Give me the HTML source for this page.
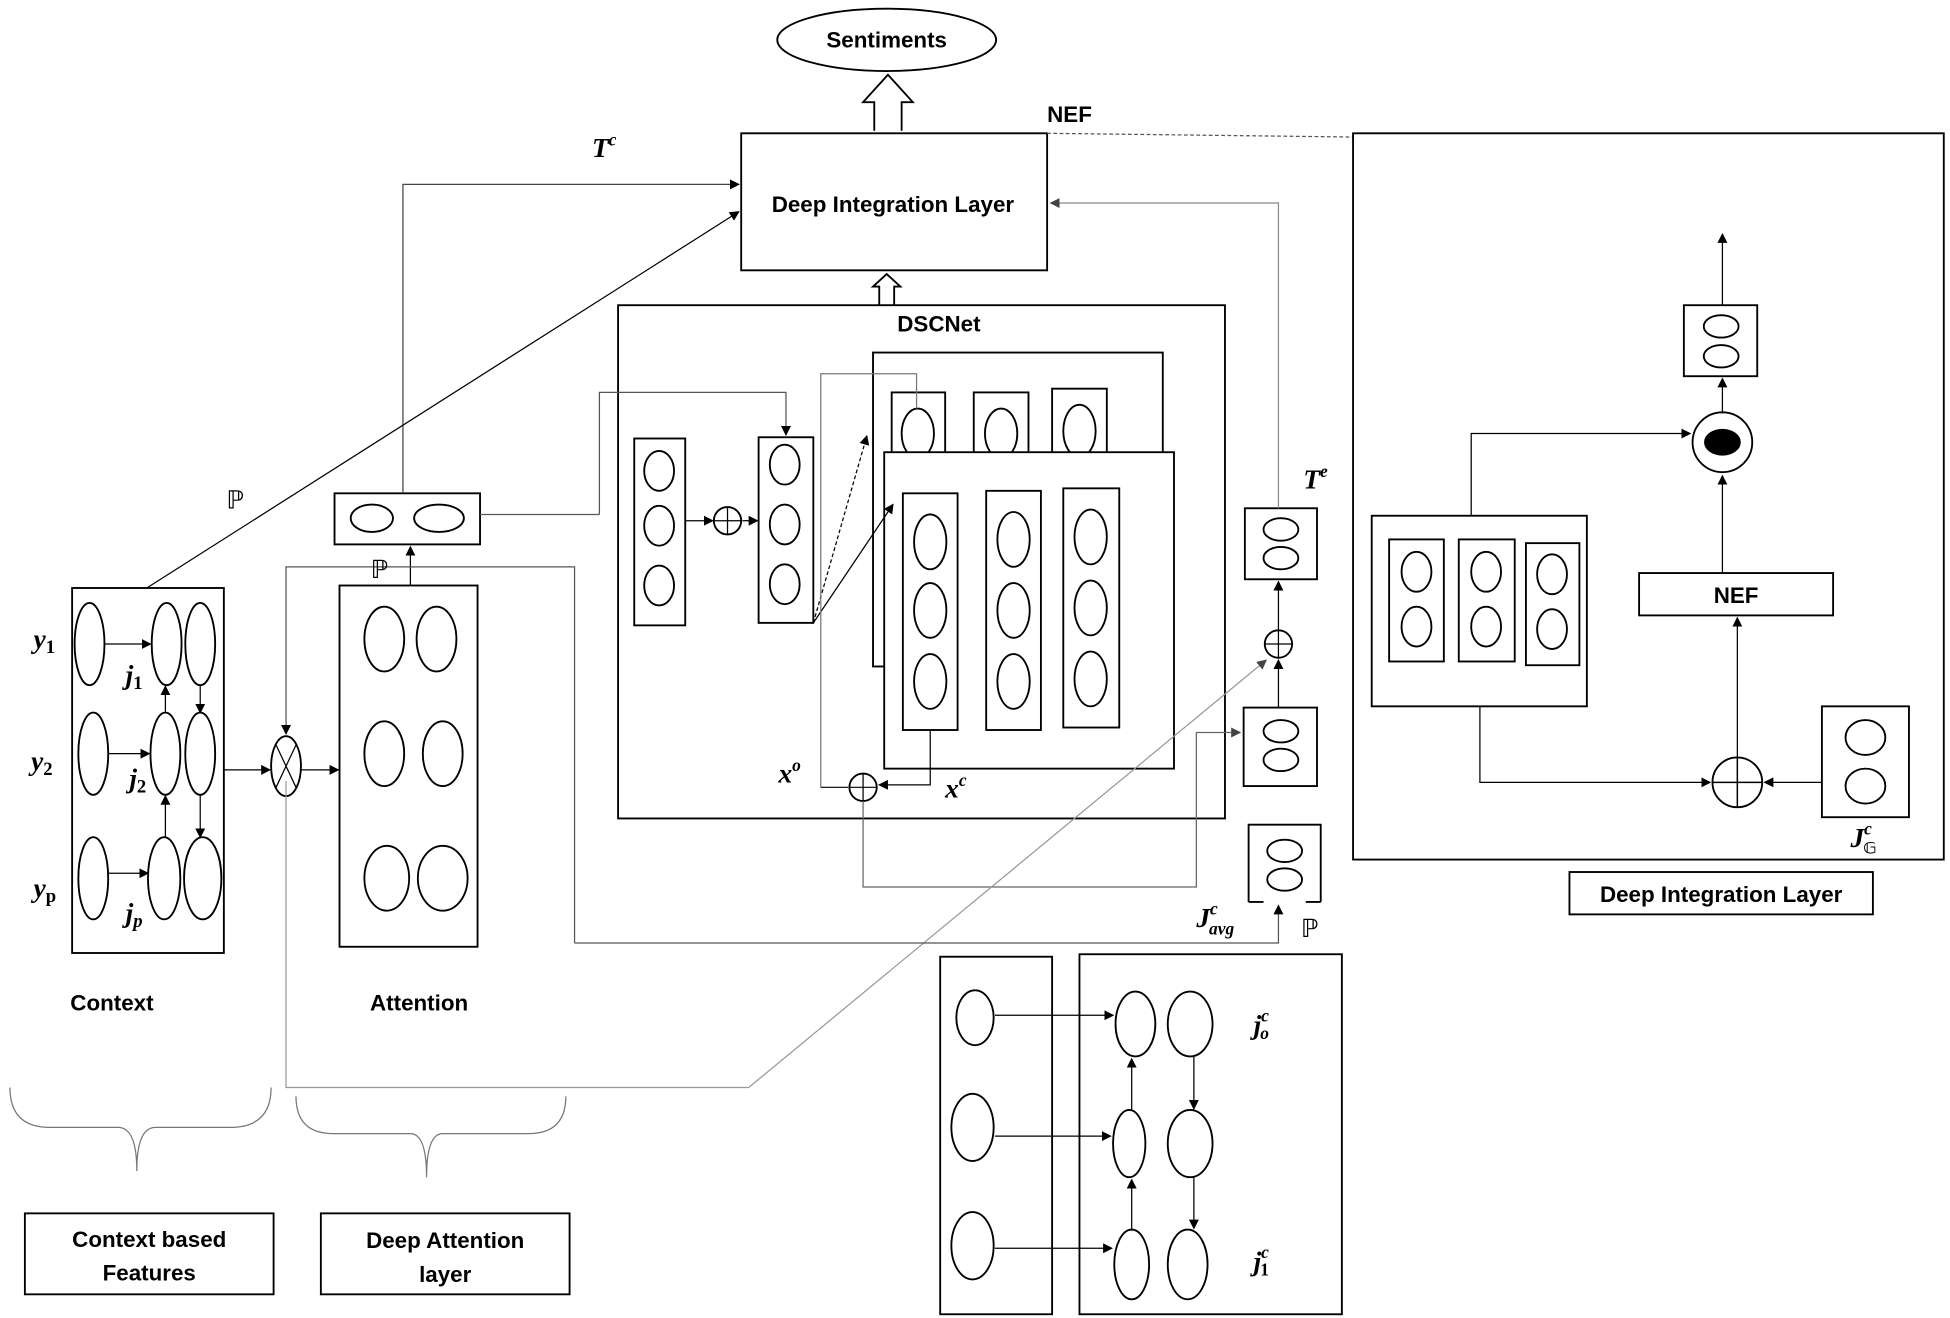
<!DOCTYPE html>
<html><head><meta charset="utf-8"><style>
html,body{margin:0;padding:0;background:#fff;}
svg{display:block;}
text{font-family:"Liberation Sans",sans-serif;}
.b{font-weight:bold;font-size:18px;}
.m{font-family:"Liberation Serif",serif;font-weight:bold;font-style:italic;font-size:22px;}
</style></head><body>
<svg width="1950" height="1318" viewBox="0 0 1568 1058" preserveAspectRatio="none" xmlns="http://www.w3.org/2000/svg">
<defs>
<marker id="a" markerWidth="8" markerHeight="8" refX="7" refY="4" orient="auto" markerUnits="userSpaceOnUse"><path d="M0,0 L8,4 L0,8 z" fill="#000"/></marker>
<marker id="g" markerWidth="8" markerHeight="8" refX="7" refY="4" orient="auto" markerUnits="userSpaceOnUse"><path d="M0,0 L8,4 L0,8 z" fill="#444"/></marker>
</defs>
<g fill="none" stroke="#000" stroke-width="1.5">
<!-- Sentiments -->
<ellipse cx="713" cy="32" rx="88" ry="25"/>
<path d="M703,105 L703,82 L694,82 L714,60 L734,82 L725,82 L725,105" fill="#fff"/>
<rect x="596" y="107" width="246" height="110"/>
<path d="M707,245 L707,230 L702,230 L713,220 L724,230 L719,230 L719,245" fill="#fff"/>
<line x1="842" y1="107" x2="1088" y2="110" stroke-dasharray="3,2" stroke-width="1" stroke="#555"/>
<rect x="1088" y="107" width="475" height="583"/>
<!-- DSCNet -->
<rect x="497" y="245" width="488" height="412"/>
<rect x="510" y="352" width="41" height="150"/>
<ellipse cx="530" cy="378" rx="12" ry="16"/><ellipse cx="530" cy="422" rx="12" ry="16"/><ellipse cx="530" cy="470" rx="12" ry="16"/>
<circle cx="585" cy="418" r="11"/><path d="M574,418h22M585,407v22" stroke-width="1"/>
<line x1="551" y1="418" x2="573" y2="418" stroke-width="1" marker-end="url(#a)"/>
<line x1="597" y1="418" x2="609" y2="418" stroke-width="1" marker-end="url(#a)"/>
<rect x="610" y="351" width="44" height="149"/>
<ellipse cx="631" cy="373" rx="12" ry="16"/><ellipse cx="631" cy="421" rx="12" ry="16"/><ellipse cx="631" cy="469" rx="12" ry="16"/>
<rect x="702" y="283" width="233" height="252"/>
<rect x="717" y="315" width="43" height="55"/><ellipse cx="738" cy="348" rx="13" ry="20"/>
<rect x="783" y="315" width="44" height="55"/><ellipse cx="805" cy="348" rx="13" ry="20"/>
<rect x="846" y="312" width="44" height="58"/><ellipse cx="868" cy="346" rx="13" ry="21"/>
<rect x="711" y="363" width="233" height="254" fill="#fff"/>
<rect x="726" y="396" width="44" height="190"/>
<rect x="793" y="394" width="44" height="192"/>
<rect x="855" y="392" width="45" height="192"/>
<ellipse cx="748" cy="435" rx="13" ry="22"/><ellipse cx="748" cy="490" rx="13" ry="22"/><ellipse cx="748" cy="547" rx="13" ry="22"/>
<ellipse cx="815" cy="433" rx="13" ry="22"/><ellipse cx="815" cy="490" rx="13" ry="22"/><ellipse cx="815" cy="547" rx="13" ry="22"/>
<ellipse cx="877" cy="431" rx="13" ry="22"/><ellipse cx="877" cy="488" rx="13" ry="22"/><ellipse cx="877" cy="545" rx="13" ry="22"/>
<line x1="654" y1="500" x2="697" y2="350" stroke-width="1" stroke-dasharray="3,2" marker-end="url(#a)"/>
<line x1="654" y1="500" x2="718" y2="405" stroke-width="1" marker-end="url(#a)"/>
<path d="M660,632 L660,300 L737,300 L737,328" stroke-width="1" stroke="#777"/>
<path d="M482,413 L482,315 L632,315 L632,349" stroke-width="1" stroke="#555" marker-end="url(#a)"/>
<circle cx="694" cy="632" r="11"/><path d="M683,632h22M694,621v22" stroke-width="1"/>
<path d="M748,586 L748,630 L707,630" stroke-width="1" marker-end="url(#a)"/>
<path d="M660,632 L682,632" stroke-width="1"/>
<path d="M694,643 L694,712 L962,712 L962,588 L997,588" stroke-width="1" stroke="#666" marker-end="url(#g)"/>
<!-- right small boxes -->
<rect x="1001" y="408" width="58" height="57"/><ellipse cx="1030" cy="425" rx="14" ry="9"/><ellipse cx="1030" cy="448" rx="14" ry="9"/>
<circle cx="1028" cy="517" r="11"/><path d="M1017,517h22M1028,506v22" stroke-width="1"/>
<line x1="1028" y1="506" x2="1028" y2="467" stroke-width="1" marker-end="url(#a)"/>
<line x1="1028" y1="568" x2="1028" y2="530" stroke-width="1" marker-end="url(#a)"/>
<rect x="1000" y="568" width="59" height="63"/><ellipse cx="1030" cy="587" rx="14" ry="9"/><ellipse cx="1030" cy="610" rx="14" ry="9"/>
<path d="M1004,724 L1004,662 L1062,662 L1062,724" /><path d="M1004,724 L1016,724 M1050,724 L1062,724"/>
<ellipse cx="1033" cy="683" rx="14" ry="9"/><ellipse cx="1033" cy="706" rx="14" ry="9"/>
<path d="M1028,408 L1028,163 L845,163" stroke-width="1" stroke="#888" marker-end="url(#g)"/>
<!-- T^c -->
<path d="M324,395 L324,148 L594,148" stroke-width="1" stroke="#444" marker-end="url(#a)"/>
<line x1="118" y1="472" x2="594" y2="170" stroke-width="1" marker-end="url(#a)"/>
<rect x="269" y="396" width="117" height="41"/><ellipse cx="299" cy="416" rx="17" ry="11"/><ellipse cx="353" cy="416" rx="20" ry="11"/>
<line x1="386" y1="413" x2="482" y2="413" stroke-width="1" stroke="#555"/>
<line x1="330" y1="470" x2="330" y2="439" stroke-width="1" marker-end="url(#a)"/>
<!-- context -->
<rect x="58" y="472" width="122" height="293"/>
<ellipse cx="72" cy="517" rx="12" ry="33"/><ellipse cx="134" cy="517" rx="12" ry="33"/><ellipse cx="161" cy="517" rx="12" ry="33"/>
<ellipse cx="75" cy="605" rx="12" ry="33"/><ellipse cx="133" cy="605" rx="12" ry="33"/><ellipse cx="161" cy="605" rx="12" ry="33"/>
<ellipse cx="75" cy="705" rx="12" ry="33"/><ellipse cx="132" cy="705" rx="13" ry="33"/><ellipse cx="163" cy="705" rx="15" ry="33"/>
<g stroke-width="1">
<line x1="84" y1="517" x2="121" y2="517" marker-end="url(#a)"/>
<line x1="87" y1="605" x2="120" y2="605" marker-end="url(#a)"/>
<line x1="87" y1="701" x2="119" y2="701" marker-end="url(#a)"/>
<line x1="133" y1="572" x2="133" y2="551" marker-end="url(#a)"/>
<line x1="133" y1="672" x2="133" y2="639" marker-end="url(#a)"/>
<line x1="161" y1="550" x2="161" y2="572" marker-end="url(#a)"/>
<line x1="161" y1="638" x2="161" y2="672" marker-end="url(#a)"/>
<line x1="180" y1="618" x2="217" y2="618" marker-end="url(#a)"/>
<line x1="242" y1="618" x2="272" y2="618" marker-end="url(#a)"/>
</g>
<ellipse cx="230" cy="615" rx="12" ry="24"/><path d="M222,598 L238,632 M238,598 L222,632" stroke-width="1"/>
<rect x="273" y="470" width="111" height="290"/>
<ellipse cx="309" cy="513" rx="16" ry="26"/><ellipse cx="351" cy="513" rx="16" ry="26"/>
<ellipse cx="309" cy="605" rx="16" ry="26"/><ellipse cx="356" cy="605" rx="16" ry="26"/>
<ellipse cx="311" cy="705" rx="18" ry="26"/><ellipse cx="356" cy="705" rx="20" ry="26"/>
<path d="M230,627 L230,873 L602,873 L1018,530" stroke-width="1" stroke="#999" marker-end="url(#g)"/>
<path d="M462,757 L462,455 L230,455 L230,589" stroke-width="1" stroke="#555" marker-end="url(#a)"/>
<path d="M462,757 L1028,757 L1028,727" stroke-width="1" stroke="#555" marker-end="url(#a)"/>
<!-- bottom -->
<rect x="756" y="768" width="90" height="287"/>
<ellipse cx="784" cy="817" rx="15" ry="22"/><ellipse cx="782" cy="905" rx="17" ry="27"/><ellipse cx="782" cy="1000" rx="17" ry="27"/>
<rect x="868" y="766" width="211" height="289"/>
<ellipse cx="913" cy="822" rx="16" ry="26"/><ellipse cx="957" cy="822" rx="18" ry="26"/>
<ellipse cx="908" cy="918" rx="13" ry="27"/><ellipse cx="957" cy="918" rx="18" ry="27"/>
<ellipse cx="910" cy="1015" rx="14" ry="28"/><ellipse cx="955" cy="1015" rx="16" ry="28"/>
<g stroke-width="1">
<line x1="800" y1="815" x2="895" y2="815" marker-end="url(#a)"/>
<line x1="800" y1="912" x2="893" y2="912" marker-end="url(#a)"/>
<line x1="800" y1="1002" x2="894" y2="1002" marker-end="url(#a)"/>
<line x1="910" y1="988" x2="910" y2="947" marker-end="url(#a)"/>
<line x1="910" y1="891" x2="910" y2="850" marker-end="url(#a)"/>
<line x1="960" y1="848" x2="960" y2="890" marker-end="url(#a)"/>
<line x1="960" y1="945" x2="960" y2="986" marker-end="url(#a)"/>
</g>
<!-- braces -->
<path d="M8,873 Q8,905 40,905 L95,905 Q110,905 110,940 Q110,905 125,905 L185,905 Q218,905 218,873" stroke-width="1" stroke="#777"/>
<path d="M238,880 Q238,910 268,910 L330,910 Q343,910 343,945 Q343,910 356,910 L425,910 Q455,910 455,880" stroke-width="1" stroke="#777"/>
<rect x="20" y="974" width="200" height="65"/>
<rect x="258" y="974" width="200" height="65"/>
<!-- right panel -->
<line x1="1385" y1="245" x2="1385" y2="188" stroke-width="1" marker-end="url(#a)"/>
<rect x="1354" y="245" width="59" height="57"/><ellipse cx="1384" cy="262" rx="14" ry="9"/><ellipse cx="1384" cy="286" rx="14" ry="9"/>
<line x1="1385" y1="332" x2="1385" y2="304" stroke-width="1" marker-end="url(#a)"/>
<circle cx="1385" cy="355" r="24"/><ellipse cx="1385" cy="355" rx="14" ry="10" fill="#000"/>
<line x1="1385" y1="460" x2="1385" y2="382" stroke-width="1" marker-end="url(#a)"/>
<rect x="1318" y="460" width="156" height="34"/>
<line x1="1397" y1="608" x2="1397" y2="496" stroke-width="1" marker-end="url(#a)"/>
<circle cx="1397" cy="628" r="20"/><path d="M1377,628h40M1397,608v40" stroke-width="1.2"/>
<rect x="1465" y="567" width="70" height="89"/><ellipse cx="1500" cy="592" rx="16" ry="14"/><ellipse cx="1500" cy="631" rx="16" ry="14"/>
<line x1="1465" y1="628" x2="1419" y2="628" stroke-width="1" marker-end="url(#a)"/>
<rect x="1103" y="414" width="173" height="153"/>
<rect x="1117" y="433" width="44" height="98"/><ellipse cx="1139" cy="459" rx="12" ry="16"/><ellipse cx="1139" cy="503" rx="12" ry="16"/>
<rect x="1173" y="433" width="45" height="98"/><ellipse cx="1195" cy="459" rx="12" ry="16"/><ellipse cx="1195" cy="503" rx="12" ry="16"/>
<rect x="1227" y="436" width="43" height="98"/><ellipse cx="1248" cy="461" rx="12" ry="16"/><ellipse cx="1248" cy="505" rx="12" ry="16"/>
<path d="M1190,567 L1190,628 L1375,628" stroke-width="1" marker-end="url(#a)"/>
<path d="M1183,414 L1183,348 L1359,348" stroke-width="1" marker-end="url(#a)"/>
<rect x="1262" y="700" width="244" height="34"/>
</g>
<g fill="#000">
<text x="713" y="38" class="b" text-anchor="middle">Sentiments</text>
<text x="718" y="170" class="b" text-anchor="middle">Deep Integration Layer</text>
<text x="860" y="98" class="b" text-anchor="middle">NEF</text>
<text x="755" y="266" class="b" text-anchor="middle">DSCNet</text>
<text x="1396" y="484" class="b" text-anchor="middle">NEF</text>
<text x="1384" y="724" class="b" text-anchor="middle">Deep Integration Layer</text>
<text x="90" y="811" class="b" text-anchor="middle">Context</text>
<text x="337" y="811" class="b" text-anchor="middle">Attention</text>
<text x="120" y="1001" class="b" text-anchor="middle">Context based</text>
<text x="120" y="1028" class="b" text-anchor="middle">Features</text>
<text x="358" y="1002" class="b" text-anchor="middle">Deep Attention</text>
<text x="358" y="1029" class="b" text-anchor="middle">layer</text>
<text x="476" y="126" class="m">T<tspan font-size="14" dy="-9">c</tspan></text>
<text x="1048" y="392" class="m">T<tspan font-size="14" dy="-9">e</tspan></text>
<text x="182" y="408" font-size="20" font-family="DejaVu Sans">ℙ</text>
<text x="298" y="464" font-size="20" font-family="DejaVu Sans">ℙ</text>
<text x="1046" y="752" font-size="20" font-family="DejaVu Sans">ℙ</text>
<text x="27" y="520" class="m">y<tspan font-size="15" dy="4" font-style="normal">1</tspan></text>
<text x="25" y="618" class="m">y<tspan font-size="15" dy="4" font-style="normal">2</tspan></text>
<text x="27" y="720" class="m">y<tspan font-size="15" dy="4" font-style="normal">p</tspan></text>
<text x="101" y="549" class="m">j<tspan font-size="15" dy="4" font-style="normal">1</tspan></text>
<text x="104" y="632" class="m">j<tspan font-size="15" dy="4" font-style="normal">2</tspan></text>
<text x="101" y="740" class="m">j<tspan font-size="15" dy="4">p</tspan></text>
<text x="626" y="628" class="m">x<tspan font-size="14" dy="-9">o</tspan></text>
<text x="760" y="640" class="m">x<tspan font-size="14" dy="-9">c</tspan></text>
<text x="962" y="744" class="m">J<tspan font-size="14" dy="-10">c</tspan><tspan font-size="14" dx="-7" dy="16">avg</tspan></text>
<text x="1008" y="830" class="m">j<tspan font-size="14" dy="-10">c</tspan><tspan font-size="14" dx="-7" dy="14">o</tspan></text>
<text x="1008" y="1020" class="m">j<tspan font-size="14" dy="-10">c</tspan><tspan font-size="14" dx="-7" dy="14" font-style="normal">1</tspan></text>
<text x="1488" y="680" class="m">J<tspan font-size="14" dy="-10">c</tspan><tspan font-size="13" dx="-7" dy="15" font-family="DejaVu Sans">𝔾</tspan></text>
</g>
</svg>
</body></html>
